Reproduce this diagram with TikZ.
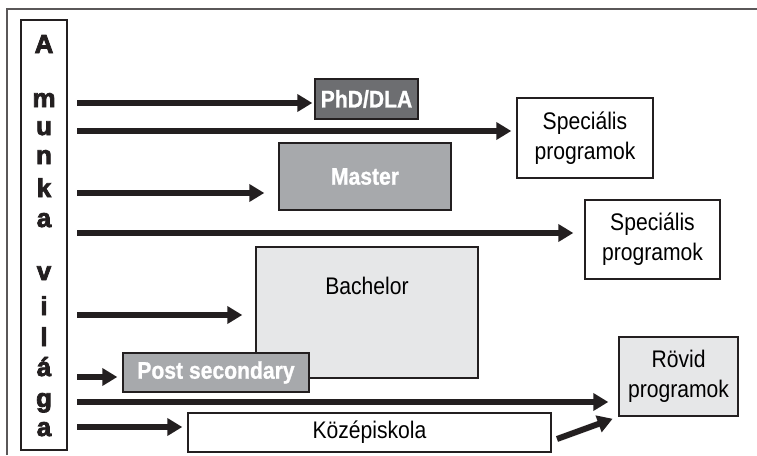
\documentclass[tikz,border=0pt]{standalone}
\usepackage{fontspec}
\setmainfont{Liberation Sans}[FakeStretch=0.88]
\newfontfamily\condbf{Liberation Sans Bold}[FakeStretch=0.88, FakeBold=1]
\newfontfamily\heavy{Liberation Sans Bold}[FakeBold=3]
\usetikzlibrary{arrows.meta, positioning}

\definecolor{dark}{HTML}{231F20}
\definecolor{phdgray}{HTML}{6D6E71}
\definecolor{midgray}{HTML}{A7A9AC}
\definecolor{lightgray}{HTML}{E6E7E8}

\tikzset{
	box/.style = {draw=dark, line width=1.4pt, inner sep=0pt, align=center, font=\fontsize{24}{30}\selectfont},
	boldbox/.style = {box, text=white, font=\condbf\fontsize{24}{28}\selectfont},
	letter/.style = {anchor=base, text=dark, font=\heavy\fontsize{26}{26}\selectfont}
}

\begin{document}
\begin{tikzpicture}[x=1pt, y=-1pt]
			\useasboundingbox (0,0) rectangle (757,455);
			\draw[dark!75, line width=1.2pt] (7,455) -- (7,9) -- (757,9);
			
			% a munka vilaga
			\node[box, minimum width=46pt, minimum height=430pt] (col) at (44,235) {};
			\foreach \l/\y in {A/53, m/107, u/135, n/164, k/197, a/227, v/280, i/315, l/346, á/376, g/407, a/436}
				\node[letter] at (col.center |- 0,\y) {\l};
			
			% programok
			\node[boldbox, fill=phdgray, minimum width=103pt, minimum height=40pt] (phd) at (366.5,99) {PhD/DLA};
			\node[box, fill=white, minimum width=136pt, minimum height=80pt] (spec1) at (585,138) {Speciális\\programok};
			\node[boldbox, fill=midgray, minimum width=172pt, minimum height=67pt] (master) at (365,176.5) {Master};
			\node[box, fill=white, minimum width=135pt, minimum height=79pt] (spec2) at (652.5,239.5) {Speciális\\programok};
			\node[box, fill=lightgray, minimum width=222pt, minimum height=131pt] (bach) at (367,312.5) {};
			\node[inner sep=0pt, below=31pt of bach.north, font=\fontsize{24}{30}\selectfont] (bachlabel) {Bachelor};
			\node[boldbox, fill=midgray, minimum width=186pt, minimum height=39pt] (post) at (216,372.5) {Post secondary};
			\node[box, fill=lightgray, minimum width=119pt, minimum height=79pt] (rovid) at (678.5,376.5) {Rövid\\programok};
			\node[box, fill=white, minimum width=363pt, minimum height=39pt] (kozep) at (369.5,432.5) {Középiskola};
			
			\coordinate (t1) at (77,103);
			\coordinate (t2) at (77,131);
			\coordinate (t3) at (77,193);
			\coordinate (t4) at (77,233);
			\coordinate (t5) at (77,315);
			\coordinate (t6) at (77,377);
			\coordinate (t7) at (77,402);
			\coordinate (t8) at (77,427);
			\coordinate (t9) at (557,439);
			
			\begin{scope}[dark, line width=6pt, -{Triangle[length=15pt, width=17pt]}]
				\draw[shorten >=2pt] (t1) -- (t1 -| phd.west);
				\draw[shorten >=5pt] (t2) -- (t2 -| spec1.west);
				\draw[shorten >=14pt] (t3) -- (t3 -| master.west);
				\draw[shorten >=11pt] (t4) -- (t4 -| spec2.west);
				\draw[shorten >=13pt] (t5) -- (t5 -| bach.west);
				\draw[shorten >=5pt] (t6) -- (t6 -| post.west);
				\draw[shorten >=10pt] (t7) -- (t7 -| rovid.west);
				\draw[shorten >=5pt] (t8) -- (t8 -| kozep.west);
				\draw[shorten >=6pt] (t9) -- (rovid.south west);
			\end{scope}
		\end{tikzpicture}
\end{document}
